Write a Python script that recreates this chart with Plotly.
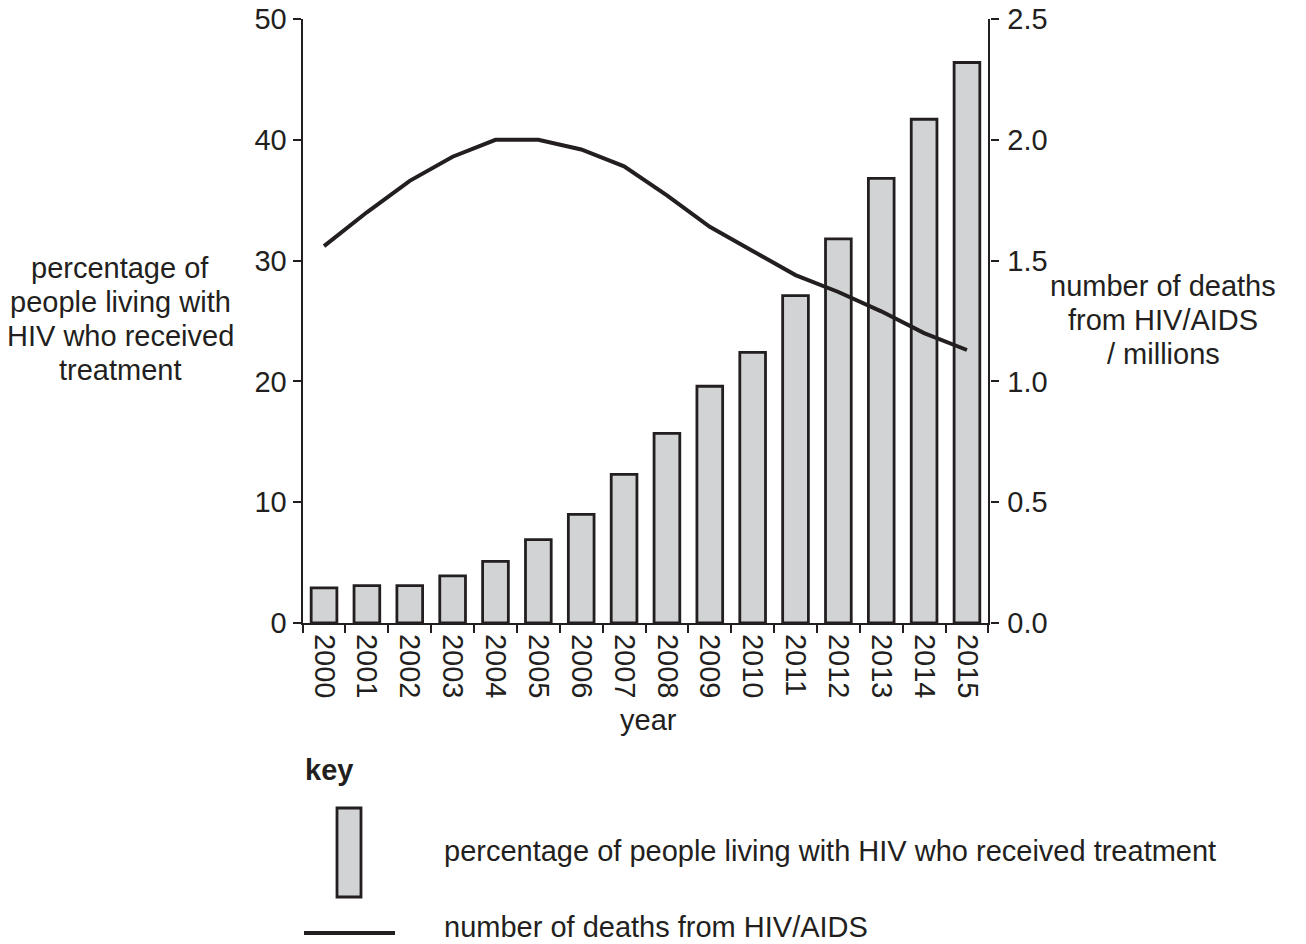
import plotly.graph_objects as go

years = [str(y) for y in range(2000, 2016)]
pct_treated = [2.9, 3.1, 3.1, 3.9, 5.1, 6.9, 9.0, 12.3, 15.7, 19.6, 22.4, 27.1, 31.8, 36.8, 41.7, 46.4]
deaths_millions = [1.56, 1.70, 1.83, 1.93, 2.00, 2.00, 1.96, 1.89, 1.77, 1.64, 1.54, 1.44, 1.37, 1.29, 1.20, 1.13]

W, H = 1306, 944
INK = "#231f20"
FONT = "Liberation Sans, Arial, sans-serif"
FS = 29


def px(x):
    return x / W


def py(y):
    return 1 - y / H


fig = go.Figure()
fig.add_trace(go.Bar(
    x=years, y=pct_treated, width=0.6,
    marker=dict(color="#d1d3d4", line=dict(color=INK, width=2.8)),
    yaxis="y", showlegend=False,
))
fig.add_trace(go.Scatter(
    x=years, y=deaths_millions, mode="lines",
    line=dict(color=INK, width=4),
    yaxis="y2", showlegend=False,
))

axis_common = dict(showline=True, linecolor=INK, linewidth=2.2, ticks="outside",
                   ticklen=8, tickwidth=2.2, tickcolor=INK, showgrid=False, zeroline=False,
                   automargin=False, ticklabeloverflow="allow",
                   tickfont=dict(family=FONT, size=FS, color=INK))

fig.update_layout(
    width=W, height=H,
    margin=dict(l=0, r=0, t=0, b=0, pad=0),
    paper_bgcolor="white", plot_bgcolor="white",
    xaxis=dict(type="category", domain=[px(302.6), px(988.4)], tickson="boundaries",
               tickangle=90, range=[-0.5, 15.5], anchor="y", ticklabelstandoff=3,
               **axis_common),
    yaxis=dict(domain=[py(623), py(19)], range=[0, 50], dtick=10, side="left",
               anchor="x", **axis_common),
    yaxis2=dict(domain=[py(623), py(19)], range=[0, 2.5], dtick=0.5, tickformat=".1f",
                side="right", overlaying="y", anchor="x", ticklabelstandoff=3,
                **axis_common),
)

ann_font = dict(family=FONT, size=FS, color=INK)


def text(x, y, s, anchor="center", bold=False):
    fig.add_annotation(x=px(x), y=py(y), xref="paper", yref="paper", showarrow=False,
                       text=f"<b>{s}</b>" if bold else s, font=ann_font,
                       xanchor=anchor, yanchor="middle")


left_title = ["percentage of", "people living with", "HIV who received", "treatment"]
for i, s in enumerate(left_title):
    text(120, 268 + 34 * i, s)
right_title = ["number of deaths", "from HIV/AIDS", "/ millions"]
for i, s in enumerate(right_title):
    text(1163, 286 + 34 * i, s)
text(648, 720, "year")
text(303, 770, "key", anchor="left", bold=True)
text(442, 851, "percentage of people living with HIV who received treatment", anchor="left")
text(442, 927, "number of deaths from HIV/AIDS", anchor="left")

fig.add_shape(type="rect", xref="paper", yref="paper",
              x0=px(337), x1=px(361), y0=py(897), y1=py(808),
              fillcolor="#d1d3d4", line=dict(color=INK, width=2.8))
fig.add_shape(type="line", xref="paper", yref="paper",
              x0=px(304), x1=px(395), y0=py(933), y1=py(933),
              line=dict(color=INK, width=4))

fig.write_html("out.html", config={"displayModeBar": False},
               post_script="document.body.style.margin='0px';")
